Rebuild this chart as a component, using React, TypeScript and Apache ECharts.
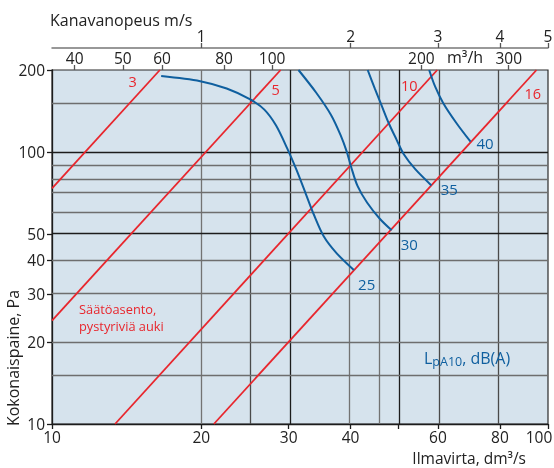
import React, { useEffect, useRef } from "react";
import * as echarts from "echarts";

// ---- data ----
// bottom axis: air flow, dm³/s (log scale)
const flowTickValues = [10, 20, 30, 40, 50, 60, 80, 100];
const flowLabelValues = [10, 20, 30, 40, 60, 80, 100];
const flowGridStrong = [30, 50];
const flowGridMedium = [25, 60, 80];
const flowGridLight = [20, 40, 46];
// top axis: m³/h
const m3hLabelValues = [40, 50, 60, 80, 100, 200, 300];
const M3H_PER_DM3S = 3.6;
// top axis: duct velocity m/s
const velocityLabelValues = [1, 2, 3, 4, 5];
const DM3S_PER_MS = 20;
// left axis: total pressure, Pa (log scale)
const pressureLabelValues = [10, 20, 30, 40, 50, 100, 200];
const pressureGridStrong = [50, 100];
const pressureGridLight = [15, 20, 30, 40, 60, 70, 80, 90, 150];

// damper setting lines (flow dm³/s, pressure Pa)
const damperNames = ["3", "5", "10", "16"];
const damper3 = [[10, 73.5], [16.5, 200]];
const damper5 = [[10, 24], [28.9, 200]];
const damper10 = [[13.4, 10], [59.8, 200]];
const damper16 = [[21.2, 10], [94.8, 200]];

// sound level curves LpA10 dB(A)
const soundNames = ["25", "30", "35", "40"];
const sound25 = [
  [16.6, 190], [19.9, 182], [22.5, 171], [25.1, 156], [26.8, 143], [28.3, 125],
  [29.8, 103], [31.1, 86], [32.5, 70], [33.7, 59], [35.3, 49], [37.5, 42.4], [40.6, 36.8],
];
const sound30 = [
  [31.4, 200], [34.1, 165], [36.5, 137], [38.2, 115], [39.3, 100], [40.1, 88],
  [41.3, 75], [43.2, 65], [45.8, 56.8], [48.4, 51.5],
];
const sound35 = [
  [43.3, 200], [44.8, 170], [46.2, 148], [47.7, 128], [49.5, 111], [51.2, 98],
  [54.0, 86.4], [58.2, 75.3],
];
const sound40 = [[57.6, 200], [59.2, 174], [61.5, 151], [65.3, 128], [69.8, 109]];

// ---- styling ----
const FONT = "'Open Sans', 'Noto Sans', sans-serif";
const RED = "#e8262d";
const BLUE = "#0f5f9f";
const TEXT = "#222222";

const lg = (v: number) => Math.log10(v);
const toLog = (pts: number[][]) => pts.map(([q, p]) => [lg(q), lg(p)]);

export default function App() {
  const ref = useRef<HTMLDivElement>(null);

  useEffect(() => {
    if (!ref.current) return;
    const chart = echarts.init(ref.current, undefined, { renderer: "svg" });

    const labelStyle = {
      color: TEXT,
      fontSize: 15.5,
      lineHeight: 16,
      fontFamily: FONT,
    };
    const vLine = (v: number, color: string) => ({
      xAxis: lg(v),
      lineStyle: { color, width: 1.3, type: "solid" },
    });
    const hLine = (v: number, color: string) => ({
      yAxis: lg(v),
      lineStyle: { color, width: 1.3, type: "solid" },
    });

    const gridLines = [
      ...flowGridLight.map((v) => vLine(v, "#737373")),
      ...flowGridMedium.map((v) => vLine(v, "#4a4a4a")),
      ...flowGridStrong.map((v) => vLine(v, "#1c1c1c")),
      ...pressureGridLight.map((v) => hLine(v, "#6e6e6e")),
      ...pressureGridStrong.map((v) => hLine(v, "#1c1c1c")),
    ];

    const damperData = [damper3, damper5, damper10, damper16];
    const soundData = [sound25, sound30, sound35, sound40];
    const lastFlow = flowLabelValues[flowLabelValues.length - 1];

    const textEl = (
      text: string,
      x: number,
      y: number,
      fill: string,
      fontSize: number,
      align = "center",
      extra: any = {},
      lineHeight?: number
    ) => ({
      type: "text",
      x,
      y,
      z: 100,
      ...extra,
      style: {
        text,
        fill,
        fontSize,
        lineHeight: lineHeight ?? fontSize,
        fontFamily: FONT,
        textAlign: align,
        align,
        textVerticalAlign: "middle",
        verticalAlign: "middle",
      },
    });

    const damperLabelPos = [
      [132.7, 81.7],
      [275.7, 89],
      [409.3, 85.7],
      [532.7, 93.3],
    ];
    const soundLabelPos = [
      [366.7, 284.3],
      [409.3, 244.3],
      [449.3, 189.3],
      [485, 143.3],
    ];

    chart.setOption({
      animation: false,
      grid: {
        left: 52,
        top: 70,
        width: 496,
        height: 354,
        containLabel: false,
        outerBoundsMode: "none",
        show: true,
        backgroundColor: "#d6e3ed",
        borderColor: "#2a2a2a",
        borderWidth: 1.2,
      },
      xAxis: [
        {
          type: "value",
          position: "bottom",
          min: 1,
          max: 2,
          axisLine: { show: true, lineStyle: { color: "#1c1c1c", width: 1.3 } },
          axisTick: {
            show: true,
            length: 5,
            customValues: flowTickValues.map(lg),
            lineStyle: { color: "#1c1c1c", width: 1.3 },
          },
          axisLabel: {
            ...labelStyle,
            margin: 5,
            customValues: flowLabelValues.map(lg),
            formatter: (v: number) => {
              const n = Math.round(Math.pow(10, v));
              return n === lastFlow ? `{last|${n}}` : String(n);
            },
            rich: {
              last: {
                ...labelStyle,
                padding: [0, 18, 0, 0],
              },
            },
          },
          splitLine: { show: false },
        },
        {
          type: "value",
          position: "top",
          min: 1,
          max: 2,
          axisLine: { show: false },
          axisTick: {
            show: true,
            length: 5,
            customValues: m3hLabelValues.map((v) => lg(v / M3H_PER_DM3S)),
            lineStyle: { color: "#555", width: 1.3 },
          },
          axisLabel: {
            ...labelStyle,
            margin: 4,
            customValues: m3hLabelValues.map((v) => lg(v / M3H_PER_DM3S)),
            formatter: (v: number) =>
              String(Math.round(Math.pow(10, v) * M3H_PER_DM3S)),
          },
          splitLine: { show: false },
        },
        {
          type: "value",
          position: "top",
          offset: 22,
          min: 1,
          max: 2,
          axisLine: { show: true, lineStyle: { color: "#777", width: 1.5 } },
          axisTick: {
            show: true,
            length: 5,
            customValues: velocityLabelValues.map((v) => lg(v * DM3S_PER_MS)),
            lineStyle: { color: "#555", width: 1.3 },
          },
          axisLabel: {
            ...labelStyle,
            margin: 4,
            customValues: velocityLabelValues.map((v) => lg(v * DM3S_PER_MS)),
            formatter: (v: number) =>
              String(Math.round(Math.pow(10, v) / DM3S_PER_MS)),
          },
          splitLine: { show: false },
        },
      ],
      yAxis: {
        type: "value",
        min: 1,
        max: lg(200),
        axisLine: { show: true, lineStyle: { color: "#1c1c1c", width: 1.3 } },
        axisTick: {
          show: true,
          length: 5,
          customValues: pressureLabelValues.map(lg),
          lineStyle: { color: "#1c1c1c", width: 1.3 },
        },
        axisLabel: {
          ...labelStyle,
          margin: 7,
          customValues: pressureLabelValues.map(lg),
          formatter: (v: number) => String(Math.round(Math.pow(10, v))),
        },
        splitLine: { show: false },
      },
      series: [
        {
          type: "line",
          name: "grid",
          z: 1,
          data: [],
          silent: true,
          markLine: {
            silent: true,
            symbol: ["none", "none"],
            label: { show: false },
            lineStyle: { type: "solid" },
            data: gridLines,
          },
        },
        ...damperData.map((d, i) => ({
          type: "line",
          name: "damper " + damperNames[i],
          z: 10,
          data: toLog(d),
          showSymbol: false,
          symbol: "none",
          lineStyle: { color: RED, width: 1.8 },
          silent: true,
        })),
        ...soundData.map((d, i) => ({
          type: "line",
          name: "LpA10 " + soundNames[i],
          z: 11,
          data: toLog(d),
          showSymbol: false,
          symbol: "none",
          smooth: 0.3,
          lineStyle: { color: BLUE, width: 2 },
          silent: true,
        })),
      ],
      graphic: [
        textEl("Kanavanopeus m/s", 50, 20, TEXT, 16, "left"),
        textEl("m³/h", 447, 57, TEXT, 16, "left"),
        textEl("Ilmavirta, dm³/s", 526, 457.5, TEXT, 15.5, "right"),
        textEl("Kokonaispaine, Pa", 13, 358, TEXT, 16, "center", {
          rotation: Math.PI / 2,
        }),
        ...damperNames.map((n, i) =>
          textEl(n, damperLabelPos[i][0], damperLabelPos[i][1], RED, 14.5)
        ),
        ...soundNames.map((n, i) =>
          textEl(n, soundLabelPos[i][0], soundLabelPos[i][1], BLUE, 15)
        ),
        textEl("Säätöasento,\npystyriviä auki", 79, 317.5, RED, 12.8, "left", {}, 16.5),
        {
          type: "text",
          x: 424,
          y: 358,
          z: 100,
          style: {
            text: "{a|L}{b|pA10}{a|, dB(A)}",
            fill: BLUE,
            fontFamily: FONT,
            fontSize: 16,
            textAlign: "left",
            align: "left",
            textVerticalAlign: "middle",
            verticalAlign: "middle",
            rich: {
              a: {
                fontSize: 16,
                lineHeight: 20,
                fill: BLUE,
                color: BLUE,
                fontFamily: FONT,
                verticalAlign: "middle",
              },
              b: {
                fontSize: 12.5,
                lineHeight: 12,
                fill: BLUE,
                color: BLUE,
                fontFamily: FONT,
                verticalAlign: "bottom",
              },
            },
          },
        },
      ],
    });

    return () => chart.dispose();
  }, []);

  return (
    <div
      ref={ref}
      style={{ position: "fixed", left: 0, top: 0, width: 554, height: 468 }}
    />
  );
}
